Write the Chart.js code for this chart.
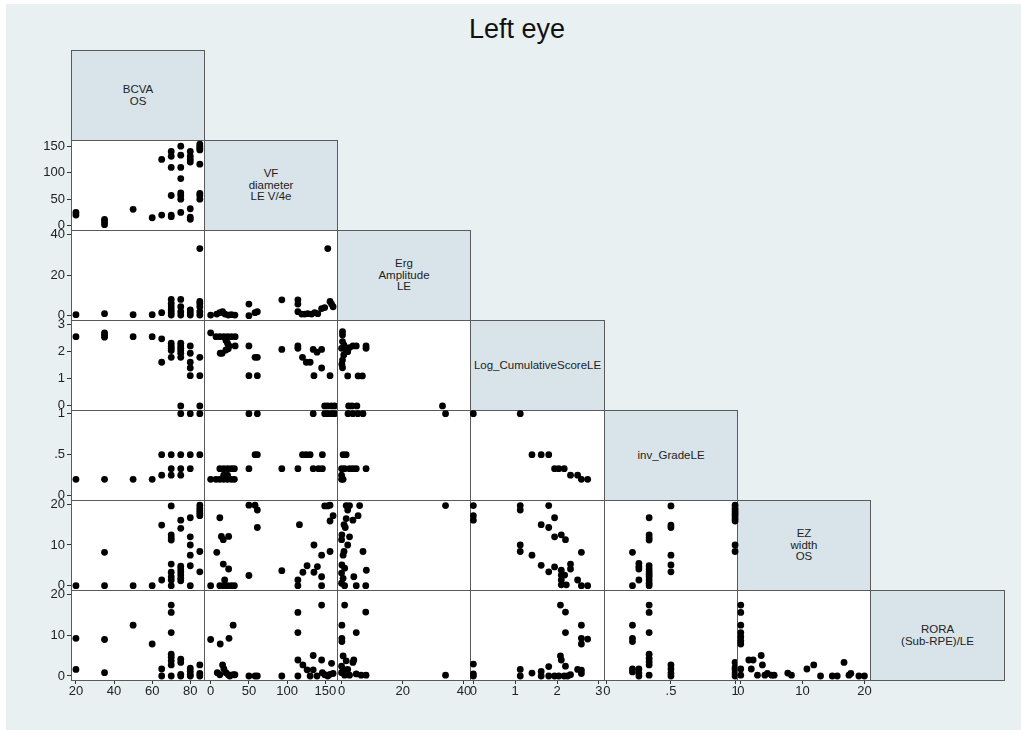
<!DOCTYPE html>
<html>
<head>
<meta charset="utf-8">
<title>Left eye</title>
<script src="https://cdn.jsdelivr.net/npm/chart.js@4.4.1/dist/chart.umd.min.js"></script>
<style>
  body { margin: 0; background: #fff; font-family: "Liberation Sans", Arial, sans-serif; }
  #bg { position: absolute; left: 6px; top: 4px; width: 1015px; height: 726px; background: #e9f0f2; }
  #title { position: absolute; left: 0; top: 14px; width: 1034px; text-align: center; font-size: 27px; color: #111; }
  .diag { position: absolute; box-sizing: border-box; background: #d9e4ea; border: 1px solid #5a5a5a;
          display: flex; align-items: center; justify-content: center; text-align: center;
          font-size: 11.5px; line-height: 11.7px; color: #222; }
  canvas { position: absolute; }
</style>
</head>
<body>
<div id="bg"></div>
<div id="title">Left eye</div>
<div id="grid"></div>
<script>
// variable labels on the diagonal
const diagLabels = [
  ["BCVA", "OS"],
  ["VF", "diameter", "LE V/4e"],
  ["Erg", "Amplitude", "LE"],
  ["Log_CumulativeScoreLE"],
  ["inv_GradeLE"],
  ["EZ", "width", "OS"],
  ["RORA", "(Sub-RPE)/LE"]
];

// tick values / labels (x = columns 0..5, y = rows 1..6)
const xTicks = [[20, 40, 60, 80], [0, 50, 100, 150], [0, 20, 40], [0, 1, 2, 3], [0, 0.5, 1], [0, 10, 20]];
const xTickLabels = [["20", "40", "60", "80"], ["0", "50", "100", "150"], ["0", "20", "40"], ["0", "1", "2", "3"], ["0", ".5", "1"], ["0", "10", "20"]];
const yTicks = [null, [0, 50, 100, 150], [0, 20, 40], [0, 1, 2, 3], [0, 0.5, 1], [0, 10, 20], [0, 10, 20]];
const yTickLabels = [null, ["0", "50", "100", "150"], ["0", "20", "40"], ["0", "1", "2", "3"], ["0", ".5", "1"], ["0", "10", "20"], ["0", "10", "20"]];

// axis ranges
const xRange = [[17.4, 87.2], [-8.7, 165.1], [-1.5, 42], [-0.08, 3.12], [-0.022, 1.015], [-0.61, 20.9]];
const yRange = [null, [-8.1, 161.7], [-2.1, 42.1], [-0.15, 3.15], [-0.052, 1.045], [-1.06, 21.06], [-0.98, 20.98]];

// row 1: VF diameter
const vfBcva = [[20,25],[20,20],[35,12],[35,7],[35,2],[50,31],[60,15],[65,20],[65,125],
  [70,140],[70,131],[70,110],[70,57],[70,20],[70,17],
  [75,150],[75,133],[75,110],[75,89],[75,62],[75,57],[75,50],[75,25],
  [80,140],[80,131],[80,125],[80,120],[80,32],[80,16],[80,12],
  [85,154],[85,150],[85,146],[85,143],[85,116],[85,61],[85,57],[85,50]];

// row 2: Erg amplitude
const ergBcva = [[20,0.5],[35,1],[50,0.5],[60,0.5],[65,1.5],[70,8],[70,6],[70,4.4],[70,2.8],[70,1.5],[70,0.3],
  [75,8],[75,4.4],[75,2],[75,0.3],[80,2.8],[80,1.5],[80,0.3],[85,33],[85,7],[85,6],[85,4.4],[85,2],[85,0.3]];
const ergVf = [[0,0.3],[8,0.8],[12,1.5],[15.6,2],[18.7,0.8],[23,0.3],[27,0.5],[31.7,0.3],[50,5.7],[50,0],[58,1.5],[61,2],
  [93,7.8],[114,7.8],[114,5.7],[114,2],[119,0.8],[123,0.8],[127,1],[132,0.8],[136,1.5],[140,1],[145,3.5],[149,4],
  [153,33],[156,7],[158,5.7],[160,4.4]];

// row 3: Log cumulative score
const logBcva = [[20,2.54],[35,2.68],[35,2.6],[35,2.52],[50,2.54],[60,2.54],[65,2.46],[65,1.6],
  [70,2.3],[70,2.2],[70,2.11],[70,2.03],[70,1.78],[75,2.3],[75,2.2],[75,2.11],[75,2.03],[75,1.93],[75,1.78],[75,0],
  [80,2.2],[80,1.93],[80,1.6],[80,1.39],[80,1.11],[85,1.78],[85,1.11],[85,0]];
const logVf = [[0,2.68],[7,2.54],[12,2.54],[17,2.54],[22,2.54],[27,2.54],[32,2.54],[12.5,1.93],[15,1.93],[20,2.4],[22,2.3],
  [24,2.2],[23,2.1],[20,2.05],[32,2.2],[50,2.2],[50,1.11],[58,1.78],[61,1.78],[61,1.11],[93,2.07],[114,2.2],[114,2.11],
  [120,1.78],[125,1.6],[130,1.6],[134,2.07],[139,1.97],[145,2.07],[145,1.39],[135,1.11],[156,1.11],
  [149,0],[153,0],[158,0],[162,0]];
const logErg = [[0.3,2.72],[0.3,2.6],[0.3,2.36],[0.8,2.23],[0,2.11],[1.5,2.05],[2,1.99],[0.7,1.87],[0.3,1.68],[0.1,1.53],
  [0.3,1.4],[2.6,2.14],[3.7,2.2],[4.8,2.2],[8,2.2],[8,2.11],[2,1.1],[5.4,1.1],[6.8,1.1],[2.3,0],[3.4,0],[5,0],[33,0]];

// row 4: inverse grade
const invBcva = [[20,0.2],[35,0.2],[50,0.2],[60,0.2],[65,0.25],[65,0.5],[70,0.5],[70,0.33],[70,0.25],
  [75,1],[75,0.5],[75,0.33],[75,0.25],[80,1],[80,0.5],[80,0.33],[85,1],[85,0.5]];
const invVf = [[0,0.2],[7,0.2],[12,0.2],[17,0.2],[22,0.2],[27,0.2],[31,0.2],[12,0.33],[17,0.33],[22,0.33],[27,0.33],
  [31,0.33],[17,0.25],[22,0.25],[50,1],[61,1],[58,0.5],[61,0.5],[50,0.33],[93,0.33],[114,0.33],[120,0.5],[125,0.5],
  [130,0.5],[134,0.33],[141,0.33],[146,0.33],[146,0.5],[134,1],[149,1],[153,1],[158,1],[162,1]];
const invErg = [[2.1,1],[3.7,1],[5.3,1],[7,1],[34,1],[0.5,0.5],[1.5,0.5],[0,0.33],[1,0.33],[2.6,0.33],[3.7,0.33],
  [4.8,0.33],[8,0.33],[0,0.25],[0.5,0.2],[0,0.2]];
const invLog = [[0,1],[1.12,1],[1.4,0.5],[1.62,0.5],[1.8,0.5],[1.94,0.33],[2.04,0.33],[2.17,0.33],[2.32,0.25],
  [2.49,0.25],[2.58,0.2],[2.73,0.2]];

// row 5: EZ width
const ezBcva = [[20,0],[35,8.2],[35,0],[50,0],[60,0],[65,14.9],[65,1.4],[70,19.6],[70,12.5],[70,11.8],[70,11.2],
  [70,5.3],[70,3.3],[70,2.2],[70,1.4],[70,0],[75,16.1],[75,14.1],[75,4.8],[75,4.1],[75,3.4],[75,2.6],[75,1.8],[75,1.2],
  [80,16.7],[80,12],[80,10],[80,7.5],[80,4.9],[80,0],[85,19.8],[85,19],[85,18.4],[85,17.8],[85,17.2],[85,8.4],[85,3.4]];
const ezVf = [[0,0],[8,8.2],[12,16.7],[14,12.1],[16.5,11.3],[23.5,12.1],[16.5,5.3],[23.5,4.1],[18.3,1.4],[12,0],[17,0],
  [22,0],[27,0],[31,0],[50,19.8],[58,19.8],[61,18.6],[61,14.3],[50,2.5],[93,3.7],[114,1.4],[114,0],[116,15],
  [120.5,3.3],[126,4.9],[135,10],[139.5,4.7],[135,3.3],[145,7.5],[145,2.2],[145,0],[149,19.6],[153,19.6],[156,19.8],
  [160,17.2],[156,15.9],[156,8.4]];
const ezErg = [[1.5,19.7],[2.6,19.7],[2,18.6],[5.9,19.7],[5.4,17.2],[3.7,16.1],[1.5,16.5],[0.8,15],[1.2,14.3],[0.1,12.5],
  [2.6,12],[0,11.3],[2,10],[0.8,8.4],[0.5,7.5],[7,8.4],[0.1,5.1],[1,4.3],[0,3.1],[0.5,1.8],[0,0.6],[8.1,3.8],[4,2.2],
  [4.8,0],[7.9,0],[1,0],[34,19.7]];
const ezLog = [[0,19.7],[0,17.2],[0,16.1],[1.12,19.7],[1.12,18.6],[1.8,19.7],[1.94,16.7],[1.62,15],[1.8,14.3],[1.94,12],
  [2.1,12.5],[2.2,11.3],[1.12,10],[1.12,8.4],[1.4,7.5],[2.58,8.2],[1.62,5],[1.8,3.4],[1.94,4.6],[2.1,3.8],[2.1,2.6],
  [2.18,2.6],[2.1,1.4],[2.1,0.2],[2.22,0.2],[2.32,5.3],[2.32,4.1],[2.49,1.4],[2.58,0],[2.73,0]];
const ezInv = [[0.2,8.2],[0.2,0],[0.25,5.5],[0.25,4.7],[0.25,4.1],[0.25,1.4],[0.33,16.7],[0.33,12.5],[0.33,11.8],
  [0.33,11.2],[0.33,4.9],[0.33,4.1],[0.33,3.4],[0.33,2.8],[0.33,2.2],[0.33,1.4],[0.33,0.6],[0.33,0],[0.5,19.6],
  [0.5,14.9],[0.5,14.3],[0.5,7.5],[0.5,5.1],[0.5,3.4],[1,19.8],[1,19],[1,18.4],[1,17.8],[1,17.2],[1,16.5],[1,15.9],
  [1,10],[1,8.4]];

// row 6: RORA
const roraBcva = [[20,9.2],[20,1.6],[35,8.9],[35,0.8],[50,12.4],[60,7.8],[65,1.7],[65,0],[70,17.3],[70,15.5],[70,10.6],
  [70,5.3],[70,4.6],[70,3.7],[70,2.7],[70,0],[75,4.1],[75,3.3],[75,0.4],[75,0],[80,1.9],[80,1.1],[80,0.3],[80,0],
  [85,2.7],[85,0.6],[85,0]];
const roraVf = [[0,8.9],[12.5,7.8],[24,9.2],[29.4,12.4],[8.7,0.8],[12,0.3],[15.6,2.7],[17.3,1.7],[20,0.8],[23,0.3],[25,0],
  [29.5,0.3],[31.7,0.3],[50,0],[58,0],[61,0],[93,0],[114,15.5],[114,10.6],[114,3.9],[114,0],[120.5,2.7],[126,1.5],
  [130,0],[134,5],[134,1.5],[139,0],[145,17.3],[145,3.9],[146,0.8],[149,0.3],[153,0],[156,0.4],[158,3.1],[160,0.6]];
const roraErg = [[1,17.3],[7.9,15.6],[0.1,12.4],[4.8,10.6],[0.1,9.2],[0.1,8.4],[0.5,4.9],[1.5,3.7],[3.7,3.3],[4,3.9],
  [0,2.4],[0.5,1.6],[2,1.6],[0,0.8],[1,0.2],[2.6,0.2],[4.8,0.5],[6.4,0.2],[8,0.2],[34,0.2]];
const roraLog = [[0,2.9],[0,0.5],[0,0],[1.12,1.6],[1.12,0],[1.4,0.7],[1.62,1.1],[1.62,0],[1.8,2.3],[1.8,0],[1.94,0],
  [2.04,0],[2.17,0],[2.25,0],[2.32,0.3],[2.08,17.3],[2.2,15.6],[2.2,10.6],[2.08,4.9],[2.1,3.9],[2.2,2.4],[2.58,12.4],
  [2.58,9.2],[2.58,7.8],[2.73,9],[2.49,1.6],[2.58,1.4],[2.58,0.6]];
const roraInv = [[0.2,12.4],[0.2,9.2],[0.2,8.4],[0.2,1.7],[0.2,1],[0.25,1.7],[0.25,0.7],[0.25,0],[0.33,17.3],[0.33,15.5],
  [0.33,10.6],[0.33,5.3],[0.33,4.3],[0.33,3.5],[0.33,2.7],[0.33,0.2],[0.5,2.7],[0.5,1.7],[0.5,0.7],[0.5,0],
  [1,3.3],[1,2.1],[1,1.5],[1,0.7],[1,0]];
const roraEz = [[0,17.3],[0,15.5],[0,12.4],[0,10.6],[0,9.6],[0,8.6],[0,7.8],[0,1.7],[0,0.2],[1.3,3.9],[2,3.9],[1.7,1.7],
  [2.7,0.2],[3.3,5],[3.5,2.7],[3.9,0.2],[4.3,0.6],[5,0.2],[5.4,0.2],[7.6,0.7],[8.2,0.2],[10.7,1.7],[11.8,2.7],[12.9,0],
  [14.8,0],[15.6,0],[16.7,3.3],[17.5,0.2],[17.8,0.6],[19.1,0],[20,0]];

// lower-triangle panels, row by row
const panels = [
  [],
  [vfBcva],
  [ergBcva, ergVf],
  [logBcva, logVf, logErg],
  [invBcva, invVf, invErg, invLog],
  [ezBcva, ezVf, ezErg, ezLog, ezInv],
  [roraBcva, roraVf, roraErg, roraLog, roraInv, roraEz]
];

// layout
const colEdges = [71, 204, 337, 470, 604, 737, 870, 1004];
const rowEdges = [50, 140, 230, 320, 410, 500, 590, 680];
const PAD = 16, AXIS_W = 40, AXIS_H = 24;
const tickFont = { family: "'Liberation Sans', Arial, sans-serif", size: 13 };

const grid = document.getElementById("grid");

// diagonal label boxes
diagLabels.forEach((lines, i) => {
  const d = document.createElement("div");
  d.className = "diag";
  d.style.left = colEdges[i] + "px";
  d.style.top = rowEdges[i] + "px";
  d.style.width = (colEdges[i + 1] - colEdges[i] + 1) + "px";
  d.style.height = (rowEdges[i + 1] - rowEdges[i] + 1) + "px";
  d.innerHTML = "<div>" + lines.join("<br>") + "</div>";
  grid.appendChild(d);
});

// white plot region with frame
const framePlugin = {
  id: "frame",
  beforeDatasetsDraw(chart) {
    const a = chart.chartArea, ctx = chart.ctx;
    ctx.save();
    ctx.fillStyle = "#fff";
    ctx.fillRect(a.left, a.top, a.right - a.left, a.bottom - a.top);
    ctx.strokeStyle = "#5a5a5a";
    ctx.lineWidth = 1;
    ctx.strokeRect(a.left + 0.5, a.top + 0.5, a.right - a.left, a.bottom - a.top);
    ctx.restore();
  }
};

for (let r = 1; r < 7; r++) {
  for (let c = 0; c < r; c++) {
    const showY = c === 0, showX = r === 6;
    const cw = colEdges[c + 1] - colEdges[c], ch = rowEdges[r + 1] - rowEdges[r];
    const canvas = document.createElement("canvas");
    canvas.width = cw + 2 * PAD + (showY ? AXIS_W : 0);
    canvas.height = ch + 2 * PAD + (showX ? AXIS_H : 0);
    canvas.style.left = (colEdges[c] - PAD - (showY ? AXIS_W : 0)) + "px";
    canvas.style.top = (rowEdges[r] - PAD) + "px";
    grid.appendChild(canvas);

    new Chart(canvas.getContext("2d"), {
      type: "scatter",
      data: {
        datasets: [{
          data: panels[r][c].map(p => ({ x: p[0], y: p[1] })),
          pointRadius: 3.4,
          pointBackgroundColor: "#000",
          pointBorderWidth: 0,
          clip: false
        }]
      },
      options: {
        responsive: false,
        animation: false,
        devicePixelRatio: 1,
        events: [],
        layout: { padding: PAD },
        plugins: { legend: { display: false }, tooltip: { enabled: false } },
        scales: {
          x: {
            type: "linear",
            bounds: "data",
            min: xRange[c][0],
            max: xRange[c][1],
            display: showX,
            afterBuildTicks: s => { s.ticks = xTicks[c].map(v => ({ value: v })); },
            afterFit: s => { s.height = showX ? AXIS_H : 0; },
            ticks: { autoSkip: false, maxRotation: 0, padding: 0, color: "#222", font: tickFont,
                     callback: (v, i) => xTickLabels[c][i] },
            grid: { display: true, drawOnChartArea: false, tickLength: 4, color: "#333" },
            border: { display: true, color: "#5a5a5a" }
          },
          y: {
            type: "linear",
            bounds: "data",
            min: yRange[r][0],
            max: yRange[r][1],
            display: showY,
            afterBuildTicks: s => { s.ticks = yTicks[r].map(v => ({ value: v })); },
            afterFit: s => { s.width = showY ? AXIS_W : 0; },
            ticks: { autoSkip: false, padding: 2, color: "#222", font: tickFont,
                     callback: (v, i) => yTickLabels[r][i] },
            grid: { display: true, drawOnChartArea: false, tickLength: 4, color: "#333" },
            border: { display: true, color: "#5a5a5a" }
          }
        }
      },
      plugins: [framePlugin]
    });
  }
}
</script>
</body>
</html>
